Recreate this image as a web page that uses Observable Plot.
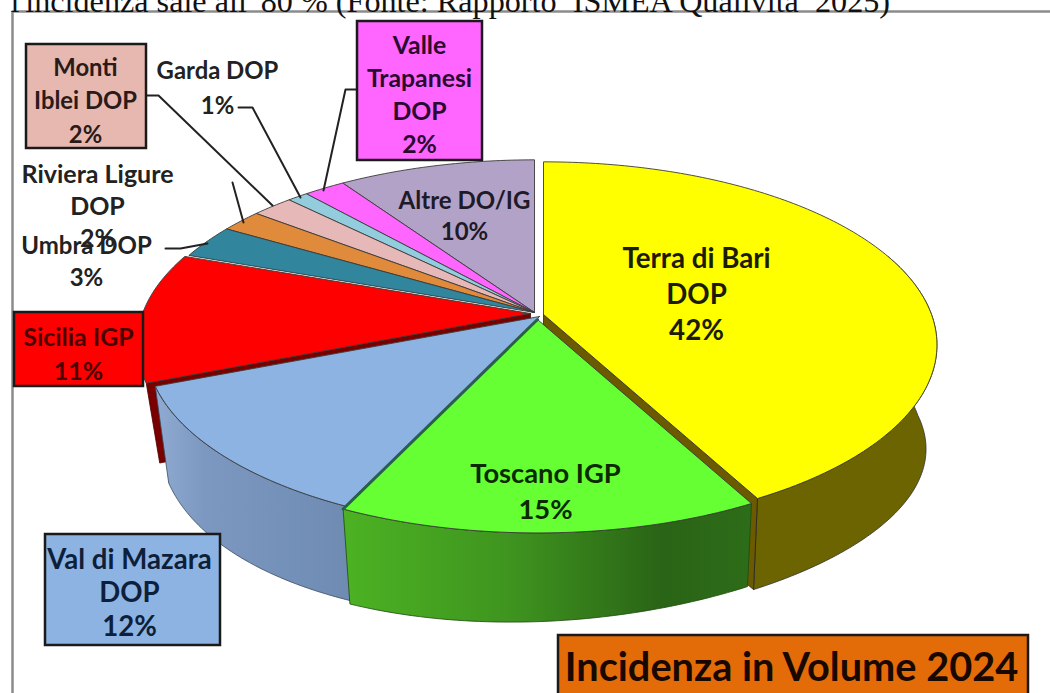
<!DOCTYPE html>
<html><head><meta charset="utf-8">
<script src="https://cdn.jsdelivr.net/npm/d3@7"></script>
<script src="https://cdn.jsdelivr.net/npm/@observablehq/plot@0.6"></script>
<style>html,body{margin:0;padding:0;background:#fff;overflow:hidden}svg{display:block}</style>
</head><body><div id="c"></div>
<script>
// Data
const sliceNames  = ["Terra di Bari DOP","Toscano IGP","Val di Mazara DOP","Sicilia IGP","Umbria DOP","Riviera Ligure DOP","Monti Iblei DOP","Garda DOP","Valle Trapanesi DOP","Altre DO/IG"];
const shares = [42.2,14.8,12,11.5,3,2,2,1,2,9.5];
const topColors = ["#ffff00","#66ff33","#8db3e2","#ff0000","#31859c","#e08a3c","#e6b9b8","#93cddd","#ff66ff","#b3a2c7"];
const offX = [5,-1,1,-8,-4,-4,-4,-4,-4,-4];
const offY = [-2,3,0,-3,-4,-4,-4,-4,-4,-4];
const offDepth = [8,0,0,-17,0,0,0,0,0,0];
const labelTexts = ["Terra di Bari\nDOP\n42%","Toscano IGP\n15%","Val di Mazara\nDOP\n12%","Sicilia IGP\n11%","Umbra DOP\n3%","Riviera Ligure\nDOP\n2%","Monti\nIblei DOP\n2%","Garda DOP\n1%","Valle\nTrapanesi\nDOP\n2%","Altre DO/IG\n10%"];
const labelX = [696,545,129,78,86,97,85,217,419,464];
const labelY = [292,489,591,352,259,204,98,85,92,214];
const labelSize = [27.7,27.3,27.6,24.9,24,25,23.8,23.9,24.8,24];
const labelLeading = [36,36,33.5,34,32,32,33.5,35,33,31];
const labelInk = ["#1c1c00","#0c2a00","#0e1f3a","#4a0000","#222","#222","#2a1a1a","#222","#2a0a30","#1e1a28"];
const boxes = [
  {x1:26,x2:146,y1:44,y2:148,fill:"#e6b8af"},
  {x1:357,x2:482,y1:21,y2:160,fill:"#ff66ff"},
  {x1:14,x2:143,y1:312,y2:386,fill:"#ff0000"},
  {x1:45,x2:220,y1:534,y2:645,fill:"#8db3e2"},
  {x1:558,x2:1028,y1:635,y2:700,fill:"#e36c09"}
];
const leaders = [
  [[146,95],[158,95],[272,205]],
  [[238,107],[252,107],[300,197]],
  [[357,89],[345,89],[323,190]],
  [[232,182],[243,222]],
  [[165,248],[180,248],[207,243]]
];
const headline = "l'incidenza sale all' 80 % (Fonte: Rapporto  ISMEA Qualivita  2025)";
const banner = "Incidenza in Volume 2024";

// Perspective disc projection
const cx=538, cy=316, Rx=388, Ry=178, persp=0.166, shrink=0.965, shrinkY=0.98, depth=93, lean=15;
function rim(deg,i,low){
  const a=deg*Math.PI/180,u=Math.sin(a),v=Math.cos(a),p=1/(1+persp*v);
  const sx=low?shrink+0.04*Math.max(u,0)*Math.max(0,-v):1,sy=low?shrinkY:1;
  const d=low?depth+offDepth[i]-lean*u*Math.max(0,-v):0;
  return [cx+offX[i]+sx*Rx*u*p, cy+offY[i]+d-sy*Ry*v*p];
}
function apex(i,low){return [cx+offX[i],cy+offY[i]+(low?depth+offDepth[i]:0)];}
function arcPts(a0,a1,i,low){
  const n=Math.max(2,Math.ceil(Math.abs(a1-a0)));
  return d3.range(n+1).map(k=>rim(a0+(a1-a0)*k/n,i,low));
}
let acc=0;
const spans=shares.map(s=>{const r=[acc*3.6,(acc+s)*3.6];acc+=s;return r;});
const toRows=pts=>pts.map(([x,y])=>({x,y}));
const ring=pts=>toRows([...pts,pts[0]]);
const poly=(pts,fill,stroke="#222",w=0.8)=>Plot.line(ring(pts),{x:"x",y:"y",fill,stroke,strokeWidth:w,curve:"linear",strokeLinejoin:"round"});

const wall=(a0,a1,i)=>[...arcPts(a0,a1,i,false),...arcPts(a1,a0,i,true)];
const radial=(a,i)=>[apex(i,false),rim(a,i,false),rim(a,i,true),apex(i,true)];
const topFace=i=>[apex(i,false),...arcPts(spans[i][0],spans[i][1],i,false)];

function gradient(id,stops){
  return ()=>{
    const d=d3.create("svg:defs"),g=d.append("linearGradient").attr("id",id);
    stops.forEach(([o,c])=>g.append("stop").attr("offset",o).attr("stop-color",c));
    return d.node();
  };
}

const marks=[
  gradient("wallGreen",[[0,"#4cb223"],[0.4,"#3f951f"],[0.78,"#2a6416"],[1,"#2d6c19"]]),
  gradient("wallBlue",[[0,"#8fabd2"],[0.25,"#7d98c0"],[0.7,"#7390b8"],[1,"#6f8bb2"]]),
  // frame
  Plot.line(toRows([[12,693],[12,11],[1050,11]]),{x:"x",y:"y",stroke:"#8c8c8c",strokeWidth:2.5}),
  // walls
  poly(radial(spans[3][0],3),"#7a0000","#4a0000"),
  poly(wall(70,spans[0][1],0),"#6b6400","#333"),
  poly(radial(spans[0][1],0),"#6b5a00","#222"),
  poly(wall(spans[2][0],spans[2][1],2),"url(#wallBlue)","#3a4a60"),
  poly(wall(spans[1][0],spans[1][1],1),"url(#wallGreen)","#1c4a0c"),
  // top faces, back to front
  ...[9,8,7,6,5,4,3,0,2,1].map(i=>poly(topFace(i),topColors[i],"#3a3a3a",0.9)),
  // dark seam between the blue and green slices
  Plot.line(toRows([apex(1,false),rim(spans[1][1],1,false)]),{x:"x",y:"y",stroke:"#2a5f50",strokeWidth:3}),
  // leaders
  ...leaders.map(l=>Plot.line(toRows(l),{x:"x",y:"y",stroke:"#222",strokeWidth:2})),
  // boxes
  Plot.rect(boxes,{x1:"x1",x2:"x2",y1:"y1",y2:"y2",fill:"fill",stroke:"#1a1a1a",strokeWidth:2.5}),
  // labels
  ...labelTexts.map((t,i)=>Plot.text([{t,x:labelX[i],y:labelY[i]}],{
    x:"x",y:"y",text:"t",fill:labelInk[i],fontFamily:"Lato",fontWeight:700,fontSize:labelSize[i],lineHeight:labelLeading[i]/labelSize[i],lineAnchor:"middle"})),
  Plot.text([{t:banner,x:791,y:668}],{x:"x",y:"y",text:"t",fill:"#190800",fontFamily:"Lato",fontWeight:700,fontSize:39.7,lineAnchor:"middle"}),
  Plot.text([{t:headline,x:10,y:11}],{x:"x",y:"y",text:"t",fill:"#111",fontFamily:"Liberation Serif",fontSize:32.2,textAnchor:"start",lineAnchor:"bottom"})
];

document.getElementById("c").append(Plot.plot({
  width:1050,height:693,margin:0,
  x:{domain:[0,1050],range:[0,1050],axis:null},
  y:{domain:[0,693],range:[0,693],axis:null},
  style:{background:"#fff",overflow:"hidden"},
  marks
}));
</script></body></html>
